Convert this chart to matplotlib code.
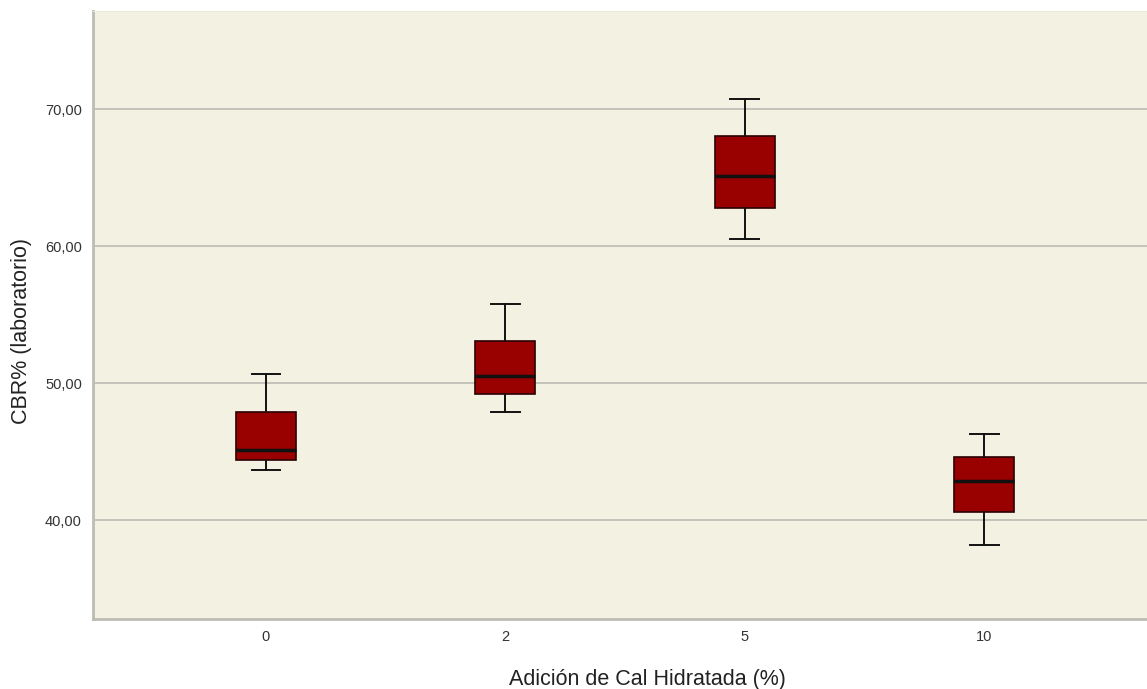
import matplotlib.pyplot as plt
from matplotlib.ticker import FuncFormatter

plt.rcParams['font.family'] = ['Liberation Sans', 'DejaVu Sans']

# CBR% boxplot summary per lime addition
categories = ['0', '2', '5', '10']
whislo = [43.7, 47.9, 60.5, 38.2]
q1 = [44.4, 49.2, 62.8, 40.6]
med = [45.1, 50.5, 65.1, 42.9]
q3 = [47.9, 53.1, 68.0, 44.6]
whishi = [50.7, 55.8, 70.7, 46.3]

stats = []
for i, lab in enumerate(categories):
    stats.append({'label': lab, 'whislo': whislo[i], 'q1': q1[i], 'med': med[i],
                  'q3': q3[i], 'whishi': whishi[i], 'fliers': []})

W, H = 1147, 689
fig = plt.figure(figsize=(W / 100, H / 100), dpi=100)
ax = fig.add_axes([93 / W, 1 - 619 / H, (W - 93) / W, (619 - 11) / H])
ax.set_facecolor('#F3F1E2')

ax.bxp(stats, positions=range(len(categories)), widths=0.25, patch_artist=True,
       showfliers=False,
       boxprops=dict(facecolor='#990000', edgecolor='#2a0000', linewidth=1.2),
       medianprops=dict(color='#111111', linewidth=2.5),
       whiskerprops=dict(color='#111111', linewidth=1.4),
       capprops=dict(color='#111111', linewidth=1.4),
       capwidths=0.12, zorder=3)

ax.set_xlim(-0.722, 3.68)
ax.set_ylim(32.8, 77.15)
ax.set_yticks([40, 50, 60, 70])
ax.yaxis.set_major_formatter(FuncFormatter(lambda v, p: f'{v:.2f}'.replace('.', ',')))
ax.grid(axis='y', color='#C4C3BA', linewidth=1.4, zorder=1)
ax.set_axisbelow(True)
ax.tick_params(length=0, labelsize=10.5, colors='#333333', pad=8)

ax.spines['right'].set_visible(False)
ax.spines['top'].set_color('#ECEADB')
for s in ['left', 'bottom']:
    ax.spines[s].set_color('#BDBCB4')
    ax.spines[s].set_linewidth(2)

fig.text(647 / W, 1 - 679 / H, 'Adición de Cal Hidratada (%)', fontsize=15.5,
         color='#222222', ha='center', va='center')
fig.text(22 / W, 1 - 331 / H, 'CBR% (laboratorio)', fontsize=15.5, color='#222222',
         ha='center', va='center', rotation=90)

fig.savefig('out.png', dpi=100)
